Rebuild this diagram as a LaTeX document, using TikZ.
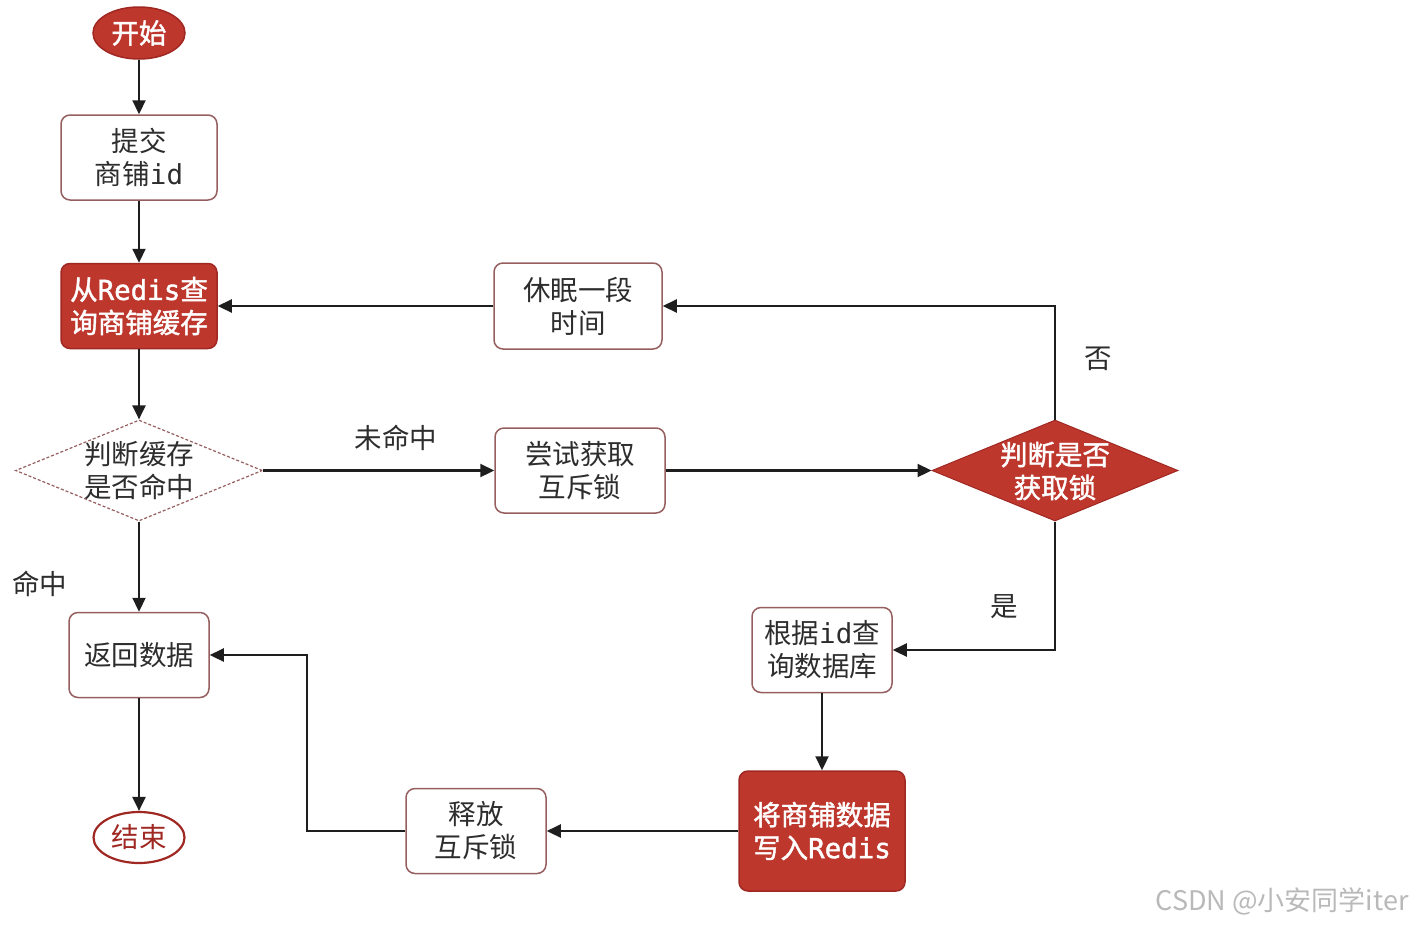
\documentclass[tikz,border=0pt]{standalone}
\usepackage{fontspec}
\setmainfont{Noto Sans CJK SC}
\newfontfamily\mono{DejaVu Sans Mono}
\newfontfamily\cjkbold[FakeBold=1.5]{Noto Sans CJK SC}
\newfontfamily\monobold[FakeBold=1.5]{DejaVu Sans Mono}
\usetikzlibrary{shapes.geometric,arrows.meta}
\definecolor{rd}{RGB}{190,55,45}
\definecolor{rdline}{RGB}{160,40,35}
\definecolor{boxline}{RGB}{150,95,95}
\definecolor{txt}{RGB}{45,45,45}
\definecolor{lnk}{RGB}{30,30,30}
\begin{document}
\begin{tikzpicture}[x=1pt,y=-1pt,
  base/.style={inner sep=0pt,align=center,font=\fontsize{27.5}{33}\selectfont},
  wbox/.style={base,rectangle,rounded corners=9pt,draw=boxline,line width=1.5pt,fill=white,text=txt},
  rbox/.style={base,rectangle,rounded corners=9pt,draw=rdline,line width=1.5pt,fill=rd,text=white,font=\fontsize{27.5}{33}\selectfont\cjkbold},
  startell/.style={base,ellipse,draw=rdline,line width=1.5pt,fill=rd,text=white,minimum width=92pt,minimum height=52pt,font=\fontsize{27.5}{33}\selectfont\cjkbold},
  endell/.style={base,ellipse,draw=rdline,line width=2.2pt,fill=white,text=rdline,minimum width=91pt,minimum height=51pt},
  wdia/.style={diamond,inner sep=0pt,draw=boxline,line width=1.2pt,dash pattern=on 3pt off 2pt,fill=white,minimum width=247pt,minimum height=101pt},
  rdia/.style={diamond,inner sep=0pt,draw=rdline,line width=1pt,fill=rd,minimum width=246pt,minimum height=101pt},
  arr/.style={draw=lnk,line width=2.2pt,-{Triangle[length=14pt,width=13pt]}},
  lab/.style={base,text=txt}
]
\useasboundingbox (0,0) rectangle (1412,927);

% left column
\node[startell] (start) at (139,33) {开始};
\node[wbox,minimum width=156pt,minimum height=85pt] (submit) at (139,157.5) {提交\\商铺{\mono id}};
\node[rbox,minimum width=156pt,minimum height=85pt] (query) at (139,306) {从{\monobold Redis}查\\询商铺缓存};
\node[wdia] (j1) at (139,470.5) {};
\node[lab] (j1t) at (139,471) {判断缓存\\是否命中};
\node[wbox,minimum width=140pt,minimum height=85pt] (ret) at (139,655) {返回数据};
\node[endell] (end) at (139,837.5) {结束};

% middle
\node[wbox,minimum width=168pt,minimum height=86pt] (sleep) at (578,306) {休眠一段\\时间};
\node[wbox,minimum width=170pt,minimum height=85pt] (try) at (580,470.5) {尝试获取\\互斥锁};
\node[wbox,minimum width=140pt,minimum height=85pt] (release) at (476,831) {释放\\互斥锁};

% right
\node[rdia] (j2) at (1055,470.5) {};
\node[base,text=white,font=\fontsize{27.5}{33}\selectfont\cjkbold] (j2t) at (1055,471) {判断是否\\获取锁};
\node[wbox,minimum width=140pt,minimum height=85pt] (db) at (822,650) {根据{\mono id}查\\询数据库};
\node[rbox,minimum width=166pt,minimum height=120pt] (write) at (822,831) {将商铺数据\\写入{\monobold Redis}};

% labels
\node[lab] (lmiss) at (396,438) {未命中};
\node[lab] (lhit) at (40,584) {命中};
\node[lab] (lno) at (1098,359) {否};
\node[lab] (lyes) at (1004,607) {是};
\node[base,text=gray!55,font=\fontsize{27}{30}\selectfont] (wm) at (1282,901) {CSDN @小安同学iter};

% connectors
\draw[arr] (start) -- (submit);
\draw[arr] (submit) -- (query);
\draw[arr] (query) -- (j1);
\draw[arr] (j1) -- (ret);
\draw[arr] (ret) -- (end);
\draw[arr] (j1.east) -- (try.west);
\draw[arr] (try.east) -- (j2.west);
\draw[arr] (j2.north) |- (sleep.east);
\draw[arr] (sleep.west) -- (query.east);
\draw[arr] (j2.south) |- (db.east);
\draw[arr] (db.south) -- (write.north);
\draw[arr] (write.west) -- (release.east);
\coordinate (bend) at (307,831);
\draw[arr] (release.west) -- (bend) |- (ret.east);
\end{tikzpicture}
\end{document}
